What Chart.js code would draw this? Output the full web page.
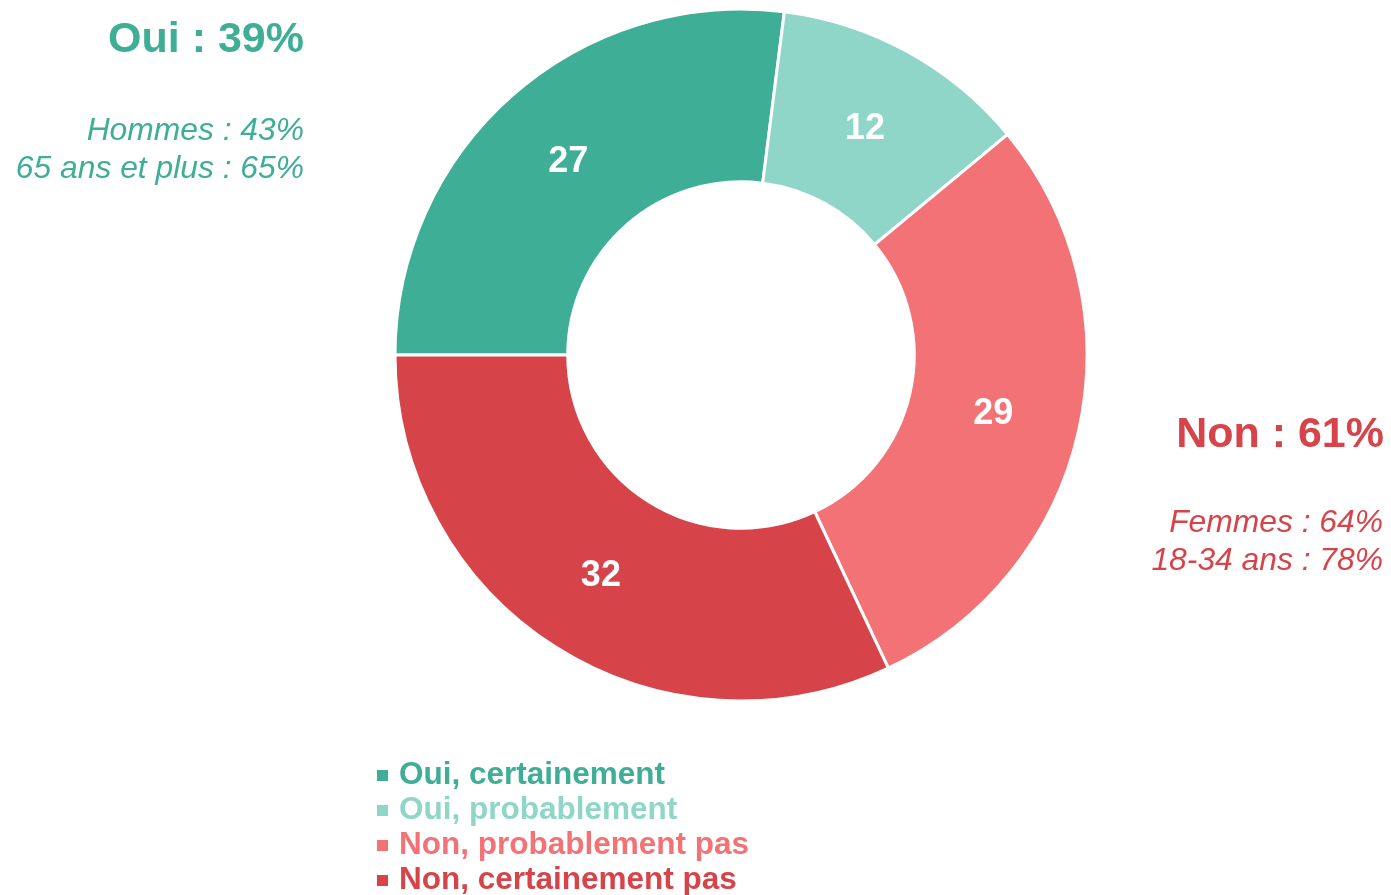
<!DOCTYPE html>
<html>
<head>
<meta charset="utf-8">
<script src="https://cdn.jsdelivr.net/npm/chart.js@4.4.1/dist/chart.umd.min.js"></script>
<style>
  html, body { margin: 0; padding: 0; background: #fff; }
  body { width: 1391px; height: 895px; position: relative; overflow: hidden;
         font-family: "Liberation Sans", Arial, sans-serif; }
  #wrap { position: absolute; left: 0; top: 0; width: 1391px; height: 895px; }
  .note { position: absolute; text-align: right; white-space: nowrap; }
  .big { font-weight: bold; font-size: 43px; line-height: normal; }
  .sub { font-style: italic; font-size: 31.8px; line-height: 38px; }
  #legend { position: absolute; left: 377px; top: 756px; }
  #legend div { font-weight: bold; font-size: 31.5px; line-height: 35px; white-space: nowrap; }
  #legend span.sq { display: inline-block; width: 11px; height: 11px; margin-right: 11px; vertical-align: 3px; }
</style>
</head>
<body>
<div id="wrap"><canvas id="chart"></canvas></div>

<div class="note big" style="right:1087px; top:13px; color:#3EAE96">Oui : 39%</div>
<div class="note sub" style="right:1087px; top:110px; color:#3EAE96">Hommes : 43%<br>65 ans et plus : 65%</div>

<div class="note big" style="right:7px; top:408px; color:#D6444A">Non : 61%</div>
<div class="note sub" style="right:8px; top:502px; color:#D6444A">Femmes : 64%<br>18-34 ans : 78%</div>

<div id="legend"></div>

<script>
// données
const labels = ["Oui, certainement", "Oui, probablement", "Non, probablement pas", "Non, certainement pas"];
const values = [27, 12, 29, 32];
const colors = ["#3EAE96", "#8FD6C8", "#F27275", "#D6444A"];

// légende maison
const legendEl = document.getElementById("legend");
labels.forEach((lab, i) => {
    const row = document.createElement("div");
    row.style.color = colors[i];
    const sq = document.createElement("span");
    sq.className = "sq";
    sq.style.background = colors[i];
    row.appendChild(sq);
    row.appendChild(document.createTextNode(lab));
    legendEl.appendChild(row);
});

// valeurs au milieu des parts
const valueLabels = {
    id: "valueLabels",
    afterDatasetsDraw(chart) {
        const ctx = chart.ctx;
        const meta = chart.getDatasetMeta(0);
        ctx.save();
        ctx.fillStyle = "#fff";
        ctx.font = "bold 36px 'Liberation Sans', Arial, sans-serif";
        ctx.textAlign = "center";
        ctx.textBaseline = "middle";
        meta.data.forEach((arc, i) => {
            const p = arc.tooltipPosition();
            ctx.fillText(values[i], p.x - 1, p.y + 2);
        });
        ctx.restore();
    }
};

new Chart(document.getElementById("chart"), {
    type: "doughnut",
    data: {
        labels: labels,
        datasets: [{
            data: values,
            backgroundColor: colors,
            borderColor: "#fff",
            borderWidth: 3,
        }]
    },
    options: {
        responsive: true,
        maintainAspectRatio: false,
        animation: false,
        rotation: -90,
        radius: 346,
        cutout: 177,
        layout: { padding: { left: 91, bottom: 185 } },
        plugins: {
            legend: { display: false },
            tooltip: { enabled: false },
        }
    },
    plugins: [valueLabels]
});
</script>
</body>
</html>
